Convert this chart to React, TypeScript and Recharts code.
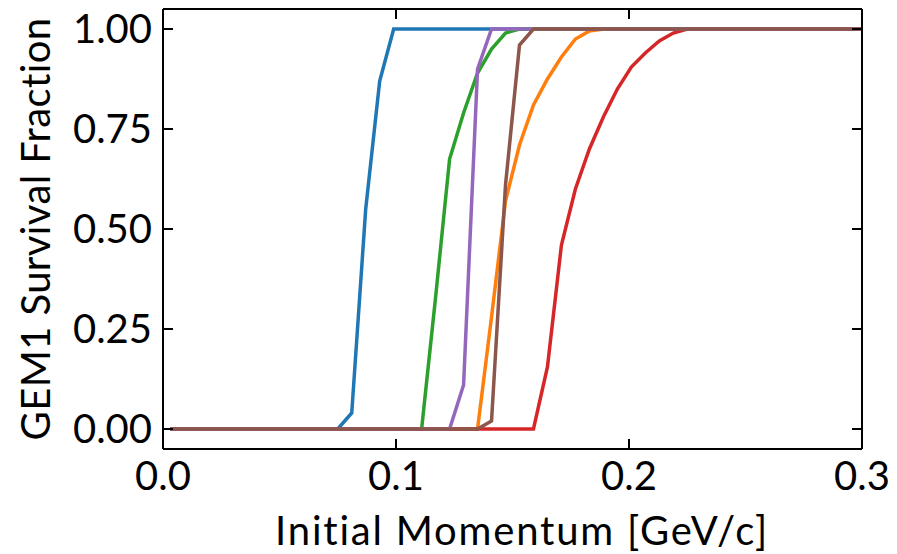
import { Label, Line, LineChart, XAxis, YAxis } from 'recharts'

// bin centres of initial momentum [GeV/c]
const momentum = [
  0.003, 0.009, 0.015, 0.021, 0.027, 0.033, 0.039, 0.045, 0.051, 0.057,
  0.063, 0.069, 0.075, 0.081, 0.087, 0.093, 0.099, 0.105, 0.111, 0.117,
  0.123, 0.129, 0.135, 0.141, 0.147, 0.153, 0.159, 0.165, 0.171, 0.177,
  0.183, 0.189, 0.195, 0.201, 0.207, 0.213, 0.219, 0.225, 0.231, 0.237,
  0.243, 0.249, 0.255, 0.261, 0.267, 0.273, 0.279, 0.285, 0.291, 0.297,
  0.303,
]

const blue = [
  0, 0, 0, 0, 0, 0, 0, 0, 0, 0,
  0, 0, 0, 0.04, 0.55, 0.87, 1, 1, 1, 1,
  1, 1, 1, 1, 1, 1, 1, 1, 1, 1,
  1, 1, 1, 1, 1, 1, 1, 1, 1, 1,
  1, 1, 1, 1, 1, 1, 1, 1, 1, 1,
  1,
]
const orange = [
  0, 0, 0, 0, 0, 0, 0, 0, 0, 0,
  0, 0, 0, 0, 0, 0, 0, 0, 0, 0,
  0, 0, 0, 0.28, 0.57, 0.71, 0.81, 0.875, 0.93, 0.975,
  0.995, 1, 1, 1, 1, 1, 1, 1, 1, 1,
  1, 1, 1, 1, 1, 1, 1, 1, 1, 1,
  1,
]
const green = [
  0, 0, 0, 0, 0, 0, 0, 0, 0, 0,
  0, 0, 0, 0, 0, 0, 0, 0, 0, 0.33,
  0.675, 0.79, 0.89, 0.95, 0.99, 1, 1, 1, 1, 1,
  1, 1, 1, 1, 1, 1, 1, 1, 1, 1,
  1, 1, 1, 1, 1, 1, 1, 1, 1, 1,
  1,
]
const red = [
  0, 0, 0, 0, 0, 0, 0, 0, 0, 0,
  0, 0, 0, 0, 0, 0, 0, 0, 0, 0,
  0, 0, 0, 0, 0, 0, 0, 0.155, 0.46, 0.6,
  0.7, 0.78, 0.85, 0.905, 0.94, 0.97, 0.99, 1, 1, 1,
  1, 1, 1, 1, 1, 1, 1, 1, 1, 1,
  1,
]
const purple = [
  0, 0, 0, 0, 0, 0, 0, 0, 0, 0,
  0, 0, 0, 0, 0, 0, 0, 0, 0, 0,
  0, 0.11, 0.9, 1, 1, 1, 1, 1, 1, 1,
  1, 1, 1, 1, 1, 1, 1, 1, 1, 1,
  1, 1, 1, 1, 1, 1, 1, 1, 1, 1,
  1,
]
const brown = [
  0, 0, 0, 0, 0, 0, 0, 0, 0, 0,
  0, 0, 0, 0, 0, 0, 0, 0, 0, 0,
  0, 0, 0, 0.02, 0.61, 0.96, 1, 1, 1, 1,
  1, 1, 1, 1, 1, 1, 1, 1, 1, 1,
  1, 1, 1, 1, 1, 1, 1, 1, 1, 1,
  1,
]

const xTicks = [0, 0.1, 0.2, 0.3]
const yTicks = [0, 0.25, 0.5, 0.75, 1]

const series = [
  { key: 'blue', values: blue, color: '#1f77b4' },
  { key: 'orange', values: orange, color: '#ff7f0e' },
  { key: 'green', values: green, color: '#2ca02c' },
  { key: 'red', values: red, color: '#d62728' },
  { key: 'purple', values: purple, color: '#9467bd' },
  { key: 'brown', values: brown, color: '#8c564b' },
]

const data = momentum.map((x, i) => {
  const row: Record<string, number> = { x }
  series.forEach((s) => {
    row[s.key] = s.values[i]
  })
  return row
})

const FONT = 'Lato, sans-serif'
const FS = 40
const TICK_LEN = 10

function BottomTick({ x, y, payload }: any) {
  return (
    <g>
      <line x1={x} x2={x} y1={y} y2={y - TICK_LEN} stroke="#000" strokeWidth={2} />
      <text x={x} y={y + 41} textAnchor="middle" fontFamily={FONT} fontSize={FS} fill="#000">
        {payload.value.toFixed(1)}
      </text>
    </g>
  )
}

function LeftTick({ x, y, payload }: any) {
  return (
    <g>
      <line x1={x} x2={x + TICK_LEN} y1={y} y2={y} stroke="#000" strokeWidth={2} />
      <text x={x - 11} y={y + 14} textAnchor="end" fontFamily={FONT} fontSize={FS} fill="#000">
        {payload.value.toFixed(2)}
      </text>
    </g>
  )
}

function TopTick({ x, y }: any) {
  return <line x1={x} x2={x} y1={y} y2={y + TICK_LEN} stroke="#000" strokeWidth={2} />
}

function RightTick({ x, y }: any) {
  return <line x1={x - TICK_LEN} x2={x} y1={y} y2={y} stroke="#000" strokeWidth={2} />
}

export default function App() {
  const axisLine = { stroke: '#000', strokeWidth: 2 }
  return (
    <div style={{ position: 'absolute', left: 0, top: 0, background: '#fff' }}>
      <LineChart width={897} height={554} data={data} margin={{ top: 8, right: 34, bottom: 0, left: 0 }}>
        <XAxis
          xAxisId={0}
          dataKey="x"
          type="number"
          domain={[0, 0.3]}
          allowDataOverflow
          ticks={xTicks}
          interval={0}
          height={105}
          tickSize={0}
          tickMargin={0}
          tickLine={false}
          axisLine={axisLine}
          tick={<BottomTick />}
        >
          <Label
            content={() => (
              <text
                x={522}
                y={545}
                textAnchor="middle"
                fontFamily={FONT}
                fontSize={FS}
                letterSpacing={1.8}
                fill="#000"
              >
                Initial Momentum [GeV/c]
              </text>
            )}
          />
        </XAxis>
        <XAxis
          xAxisId="top"
          orientation="top"
          dataKey="x"
          type="number"
          domain={[0, 0.3]}
          allowDataOverflow
          ticks={xTicks}
          interval={0}
          height={1}
          tickSize={0}
          tickMargin={0}
          tickLine={false}
          axisLine={axisLine}
          tick={<TopTick />}
        />
        <YAxis
          yAxisId={0}
          type="number"
          domain={[-0.05, 1.05]}
          allowDataOverflow
          ticks={yTicks}
          interval={0}
          width={163}
          tickSize={0}
          tickMargin={0}
          tickLine={false}
          axisLine={axisLine}
          tick={<LeftTick />}
        >
          <Label
            content={() => (
              <text
                x={50}
                y={229}
                transform="rotate(-90 50 229)"
                textAnchor="middle"
                fontFamily={FONT}
                fontSize={FS}
                letterSpacing={0.4}
                fill="#000"
              >
                GEM1 Survival Fraction
              </text>
            )}
          />
        </YAxis>
        <YAxis
          yAxisId="right"
          orientation="right"
          type="number"
          domain={[-0.05, 1.05]}
          allowDataOverflow
          ticks={yTicks}
          interval={0}
          width={1}
          tickSize={0}
          tickMargin={0}
          tickLine={false}
          axisLine={axisLine}
          tick={<RightTick />}
        />
        {series.map((s, i) => {
          // the last curve is tied to the mirrored top/right axes (same scales) so they get drawn
          const last = i === series.length - 1
          return (
            <Line
              key={s.key}
              xAxisId={last ? 'top' : 0}
              yAxisId={last ? 'right' : 0}
              type="linear"
              dataKey={s.key}
              stroke={s.color}
              strokeWidth={3.5}
              dot={false}
              activeDot={false}
              isAnimationActive={false}
            />
          )
        })}
      </LineChart>
    </div>
  )
}
